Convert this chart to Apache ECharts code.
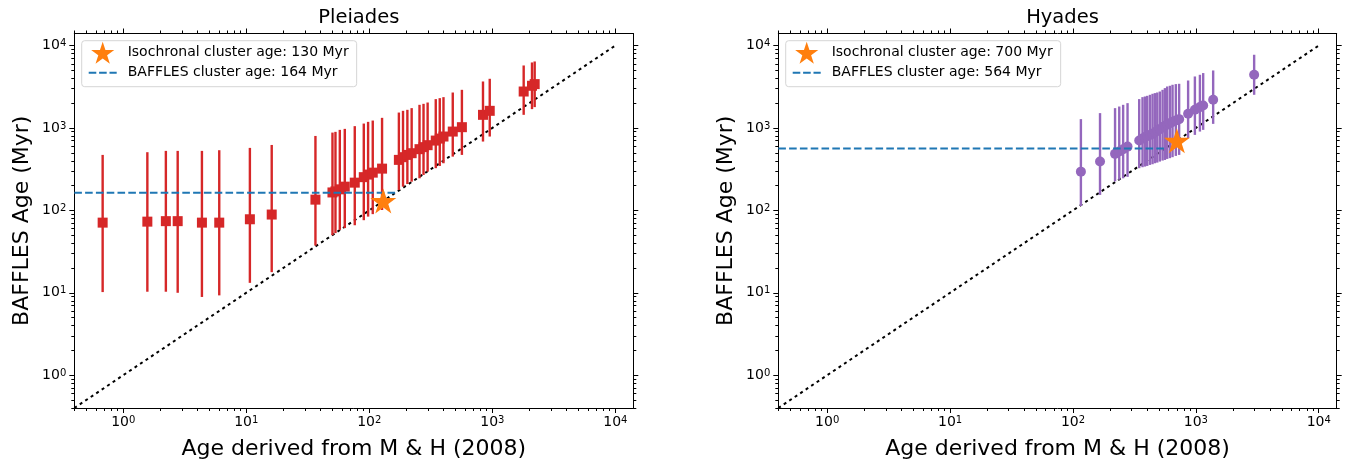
<!DOCTYPE html>
<html>
<head>
<meta charset="utf-8">
<script src="https://cdn.jsdelivr.net/npm/echarts@6/dist/echarts.min.js"></script>
<style>
html,body{margin:0;padding:0;background:#fff;}
#chart{width:1348px;height:466px;}
</style>
</head>
<body>
<div id="chart"></div>
<script>
// ---------------- data ----------------
const titles = ['Pleiades', 'Hyades'];
const xAxisName = 'Age derived from M & H (2008)';
const yAxisName = 'BAFFLES Age (Myr)';
const majorTicks = [1, 10, 100, 1000, 10000];
const axisRange = [0.4, 14000];

// Pleiades: star ages (M & H 2008), BAFFLES ages, lower / upper bounds
const pleiadesX  = [0.68, 1.57, 2.22, 2.77, 4.36, 6.03, 10.7, 16.1, 36.5, 50.2, 53.1, 57.6, 63.2, 76.2, 90.2, 97.8, 106.7, 127, 174, 188, 204, 221, 256, 276, 298, 347, 374, 401, 477, 566, 840, 953, 1799, 2102, 2210];
const pleiadesY  = [71, 73, 74, 74, 71, 71, 78, 89, 135, 165, 170, 180, 194, 217, 253, 272, 287, 321, 410, 442, 471, 494, 553, 585, 618, 703, 743, 787, 904, 1022, 1443, 1614, 2768, 3250, 3405];
const pleiadesLo = [10.2, 10.3, 10.3, 10, 8.9, 9.3, 13.2, 17.8, 37.4, 50, 53, 58, 61, 66, 76, 84, 90, 101, 177, 194, 209, 223, 245, 269, 295, 325, 346, 373, 449, 471, 684, 787, 1443, 1692, 1790];
const pleiadesHi = [471, 508, 527, 527, 527, 537, 573, 622, 800, 879, 897, 948, 975, 1052, 1131, 1186, 1230, 1327, 1538, 1614, 1660, 1740, 1909, 1963, 2036, 2238, 2300, 2365, 2692, 2903, 3664, 3950, 5730, 6235, 6410];

// Hyades
const hyadesX  = [116, 166, 220, 238, 256, 278, 346, 368, 385, 402, 423, 444, 464, 485, 509, 536, 560, 584, 615, 646, 687, 731, 865, 982, 1079, 1147, 1383, 2981];
const hyadesY  = [295, 391, 485, 517, 553, 594, 703, 743, 773, 802, 824, 848, 879, 929, 966, 1022, 1061, 1100, 1143, 1186, 1231, 1279, 1484, 1660, 1790, 1876, 2195, 4418];
const hyadesLo = [113, 154, 225, 235, 245, 255, 325, 334, 340, 346, 356, 363, 373, 380, 391, 402, 409, 421, 430, 442, 458, 471, 752, 824, 904, 948, 1121, 2525];
const hyadesHi = [1280, 1514, 1740, 1820, 1909, 2000, 2240, 2366, 2410, 2455, 2525, 2597, 2648, 2693, 2768, 2903, 3044, 3186, 3250, 3342, 3405, 3435, 3766, 4215, 4418, 4635, 4985, 7730];

const isochronalAge = [130, 700];
const bafflesAge = [164, 564];
const oneToOne = [0.4, 10000];
// ---------------------------------------

const FONT = 'DejaVu Sans';
const starPath = 'path://M0,-1L0.2245,-0.309L0.951,-0.309L0.363,0.118L0.588,0.809L0,0.382L-0.588,0.809L-0.363,0.118L-0.951,-0.309L-0.2245,-0.309Z';
const dashIcon = 'path://M0,0h7.6v2.1h-7.6zM10.4,0h7.6v2.1h-7.6zM20.8,0h7.2v2.1h-7.2z';

const minorTicks = [];
for (let k = -1; k <= 4; k++) {
  for (let m = 2; m <= 9; m++) {
    const v = +(m * Math.pow(10, k)).toPrecision(6);
    if (v >= axisRange[0] && v <= axisRange[1]) minorTicks.push(v);
  }
}

const grids = [
  {left: 74.3, top: 33.5, width: 559, height: 374.5},
  {left: 778.3, top: 33.5, width: 558.4, height: 374.5}
];

const labelRich = {
  b: {fontSize: 14, fontFamily: FONT, color: '#000', verticalAlign: 'bottom', lineHeight: 14, padding: [5, 0, 0, 0]},
  e: {fontSize: 10, fontFamily: FONT, color: '#000', verticalAlign: 'top', lineHeight: 10}
};
const fmt = v => '{b|10}{e|' + Math.round(Math.log10(v)) + '}';

const axisLineStyle = {color: '#000', width: 1};
const xAxes = [], yAxes = [];
grids.forEach((g, gi) => {
  xAxes.push({gridIndex: gi, type: 'log', position: 'bottom', min: axisRange[0], max: axisRange[1],
    axisLine: {show: true, onZero: false, lineStyle: axisLineStyle},
    axisTick: {show: true, customValues: majorTicks, length: 5, lineStyle: axisLineStyle},
    axisLabel: {show: true, customValues: majorTicks, formatter: fmt, rich: labelRich, margin: 7},
    splitLine: {show: false}, minorTick: {show: false},
    name: xAxisName, nameLocation: 'middle', nameGap: 30,
    nameTextStyle: {fontSize: 22, fontFamily: FONT, color: '#000'}});
  xAxes.push({gridIndex: gi, type: 'log', position: 'bottom', min: axisRange[0], max: axisRange[1],
    axisLine: {show: false}, axisTick: {show: true, customValues: minorTicks, length: 3, lineStyle: axisLineStyle},
    axisLabel: {show: false}, splitLine: {show: false}});
  xAxes.push({gridIndex: gi, type: 'log', position: 'top', min: axisRange[0], max: axisRange[1],
    axisLine: {show: true, onZero: false, lineStyle: axisLineStyle},
    axisTick: {show: true, customValues: majorTicks, length: 5, lineStyle: axisLineStyle},
    axisLabel: {show: false}, splitLine: {show: false}});
  xAxes.push({gridIndex: gi, type: 'log', position: 'top', min: axisRange[0], max: axisRange[1],
    axisLine: {show: false}, axisTick: {show: true, customValues: minorTicks, length: 3, lineStyle: axisLineStyle},
    axisLabel: {show: false}, splitLine: {show: false}});

  yAxes.push({gridIndex: gi, type: 'log', position: 'left', min: axisRange[0], max: axisRange[1],
    axisLine: {show: true, onZero: false, lineStyle: axisLineStyle},
    axisTick: {show: true, customValues: majorTicks, length: 5, lineStyle: axisLineStyle},
    axisLabel: {show: true, customValues: majorTicks, formatter: fmt, rich: labelRich, margin: 8},
    splitLine: {show: false},
    name: yAxisName, nameLocation: 'middle', nameGap: 41,
    nameTextStyle: {fontSize: 22, fontFamily: FONT, color: '#000'}});
  yAxes.push({gridIndex: gi, type: 'log', position: 'left', min: axisRange[0], max: axisRange[1],
    axisLine: {show: false}, axisTick: {show: true, customValues: minorTicks, length: 3, lineStyle: axisLineStyle},
    axisLabel: {show: false}, splitLine: {show: false}});
  yAxes.push({gridIndex: gi, type: 'log', position: 'right', min: axisRange[0], max: axisRange[1],
    axisLine: {show: true, onZero: false, lineStyle: axisLineStyle},
    axisTick: {show: true, customValues: majorTicks, length: 5, lineStyle: axisLineStyle},
    axisLabel: {show: false}, splitLine: {show: false}});
  yAxes.push({gridIndex: gi, type: 'log', position: 'right', min: axisRange[0], max: axisRange[1],
    axisLine: {show: false}, axisTick: {show: true, customValues: minorTicks, length: 3, lineStyle: axisLineStyle},
    axisLabel: {show: false}, splitLine: {show: false}});
});

const clusters = [
  {x: pleiadesX, y: pleiadesY, lo: pleiadesLo, hi: pleiadesHi, color: '#d62728', symbol: 'rect', size: 10},
  {x: hyadesX, y: hyadesY, lo: hyadesLo, hi: hyadesHi, color: '#9467bd', symbol: 'circle', size: 10}
];

const series = [];
const legends = [];
clusters.forEach((c, gi) => {
  const ax = gi * 4;
  const starName = 'Isochronal cluster age: ' + isochronalAge[gi] + ' Myr';
  const baffName = 'BAFFLES cluster age: ' + bafflesAge[gi] + ' Myr';
  series.push({type: 'line', xAxisIndex: ax, yAxisIndex: ax, silent: true, symbol: 'none', z: 1,
    data: [[oneToOne[0], oneToOne[0]], [oneToOne[1], oneToOne[1]]],
    lineStyle: {color: '#000', width: 2, type: [3, 3.6]}});
  series.push({type: 'custom', xAxisIndex: ax, yAxisIndex: ax, z: 2, silent: true,
    data: c.x.map((v, i) => [v, c.lo[i], c.hi[i]]),
    encode: {x: 0, y: [1, 2]},
    renderItem: (params, api) => {
      const p1 = api.coord([api.value(0), api.value(1)]);
      const p2 = api.coord([api.value(0), api.value(2)]);
      return {type: 'line', shape: {x1: p1[0], y1: p1[1], x2: p2[0], y2: p2[1]},
        style: {stroke: c.color, lineWidth: 2.4}};
    }});
  series.push({type: 'scatter', xAxisIndex: ax, yAxisIndex: ax, z: 3, symbol: c.symbol, symbolSize: c.size,
    data: c.x.map((v, i) => [v, c.y[i]]), itemStyle: {color: c.color, opacity: 1}});
  series.push({type: 'line', name: baffName, xAxisIndex: ax, yAxisIndex: ax, z: 4, symbol: 'none',
    data: [[axisRange[0], bafflesAge[gi]], [bafflesAge[gi], bafflesAge[gi]]],
    lineStyle: {color: '#1f77b4', width: 2, type: [7.6, 3.2]}, itemStyle: {color: '#1f77b4'}});
  series.push({type: 'scatter', name: starName, xAxisIndex: ax, yAxisIndex: ax, z: 5,
    symbol: starPath, symbolSize: [26, 25],
    data: [[isochronalAge[gi], isochronalAge[gi]]], itemStyle: {color: '#ff7f0e', opacity: 1}});

  legends.push({
    left: grids[gi].left + 7.4, top: 40.7, orient: 'vertical',
    data: [
      {name: starName, icon: starPath, itemStyle: {color: '#ff7f0e'}},
      {name: baffName, icon: dashIcon, itemStyle: {color: '#1f77b4'}}
    ],
    itemWidth: 28, itemHeight: 22, itemGap: 1,
    padding: [1, 8, 6, 7],
    backgroundColor: '#fff', borderColor: '#d5d5d5', borderWidth: 1, borderRadius: 3,
    textStyle: {fontSize: 14, lineHeight: 16, fontFamily: FONT, color: '#000', padding: [0, 0, 0, 6]},
    selectedMode: false
  });
});

const chart = echarts.init(document.getElementById('chart'), null, {renderer: 'canvas'});
chart.setOption({
  animation: false,
  backgroundColor: '#fff',
  title: grids.map((g, gi) => ({
    text: titles[gi], left: g.left + g.width / 2, top: 3, textAlign: 'center',
    textStyle: {fontSize: 19.5, fontWeight: 'normal', fontFamily: FONT, color: '#000'}
  })),
  grid: grids,
  legend: legends,
  xAxis: xAxes,
  yAxis: yAxes,
  series: series
});
</script>
</body>
</html>
